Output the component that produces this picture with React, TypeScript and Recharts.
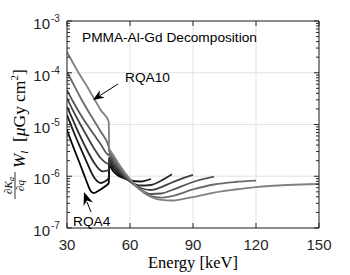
import React from 'react';
import { LineChart, Line, XAxis, YAxis, CartesianGrid } from 'recharts';

const AXIS = '#262626';
const SANS = '"Liberation Sans", Arial, sans-serif';
const SERIF = '"Liberation Serif", "Times New Roman", serif';

const beamNames = ['RQA4', 'RQA5', 'RQA6', 'RQA7', 'RQA8', 'RQA9', 'RQA10'];
const beamColors = ['#000000', '#161616', '#2b2b2b', '#414141', '#565656', '#6b6b6b', '#808080'];

// energies in keV; 49.9 / 50.05 straddle the Gd K-edge
const rqa4Energy = [30, 33, 36, 38, 40, 41, 42, 43, 44, 46, 48, 49.9, 50.05, 52, 55, 58, 60];
const rqa4Value = [7.83e-6, 3.67e-6, 1.8e-6, 1.1e-6, 6.78e-7, 5.42e-7, 4.85e-7, 4.74e-7, 4.97e-7, 5.55e-7, 6.34e-7, 7.41e-7, 1.58e-6, 1.26e-6, 9.89e-7, 9.06e-7, 8.85e-7];

const rqa5Energy = [30, 33, 36, 40, 42, 44, 46, 48, 49.9, 50.05, 52, 55, 60, 65, 70];
const rqa5Value = [1.53e-5, 7.48e-6, 3.85e-6, 1.65e-6, 1.1e-6, 8.28e-7, 7.41e-7, 7.92e-7, 9.25e-7, 1.8e-6, 1.44e-6, 1.06e-6, 8.28e-7, 7.92e-7, 8.85e-7];

const rqa6Energy = [30, 33, 36, 40, 43, 45, 47, 49.9, 50.05, 52, 55, 60, 65, 70, 75, 80];
const rqa6Value = [2.21e-5, 1.17e-5, 6.27e-6, 2.94e-6, 1.8e-6, 1.41e-6, 1.24e-6, 1.32e-6, 2.06e-6, 1.61e-6, 1.16e-6, 7.92e-7, 6.62e-7, 6.78e-7, 8.28e-7, 1.09e-6];

const rqa7Energy = [30, 33, 36, 40, 43, 46, 49.9, 50.05, 52, 55, 60, 65, 70, 75, 80, 85, 90];
const rqa7Value = [3.21e-5, 1.82e-5, 1.07e-5, 5.48e-6, 3.37e-6, 2.25e-6, 1.73e-6, 2.35e-6, 1.8e-6, 1.26e-6, 7.92e-7, 5.93e-7, 5.42e-7, 6.19e-7, 7.57e-7, 9.06e-7, 1.06e-6];

const rqa8Energy = [30, 33, 36, 40, 43, 46, 49.9, 50.05, 52, 55, 60, 65, 70, 75, 80, 90, 100];
const rqa8Value = [4.64e-5, 2.72e-5, 1.67e-5, 9.35e-6, 6.27e-6, 4.2e-6, 2.58e-6, 2.69e-6, 2.06e-6, 1.38e-6, 8.09e-7, 5.55e-7, 4.54e-7, 4.64e-7, 5.42e-7, 7.74e-7, 9.79e-7];

const rqa9Energy = [30, 33, 36, 40, 43, 46, 49.9, 50.05, 52, 55, 60, 65, 70, 75, 80, 90, 100, 110, 120];
const rqa9Value = [1.05e-4, 6.07e-5, 3.56e-5, 1.85e-5, 1.17e-5, 7.33e-6, 3.67e-6, 3.08e-6, 2.3e-6, 1.51e-6, 8.47e-7, 5.42e-7, 4.15e-7, 3.88e-7, 4.15e-7, 5.55e-7, 6.93e-7, 7.74e-7, 8.2e-7];

const rqa10Energy = [30, 33, 36, 40, 43, 46, 49.9, 50.05, 52, 55, 60, 65, 70, 75, 80, 85, 90, 100, 110, 120, 135, 150];
const rqa10Value = [2.55e-4, 1.51e-4, 9.25e-5, 5.07e-5, 3.11e-5, 1.91e-5, 1.13e-5, 3.52e-6, 2.58e-6, 1.65e-6, 8.85e-7, 5.42e-7, 3.97e-7, 3.48e-7, 3.4e-7, 3.63e-7, 3.97e-7, 4.85e-7, 5.55e-7, 6.19e-7, 6.78e-7, 7.08e-7];

const xTicks = [30, 60, 90, 120, 150];
const yDecades = [1e-7, 1e-6, 1e-5, 1e-4, 1e-3];
const yTicks = [
  ...yDecades,
  ...yDecades.slice(0, -1).flatMap((d) => [2, 3, 4, 5, 6, 7, 8, 9].map((k) => k * d)),
];

const energies = [rqa4Energy, rqa5Energy, rqa6Energy, rqa7Energy, rqa8Energy, rqa9Energy, rqa10Energy];
const values = [rqa4Value, rqa5Value, rqa6Value, rqa7Value, rqa8Value, rqa9Value, rqa10Value];

const series = beamNames.map((name, i) => ({
  name,
  color: beamColors[i],
  data: energies[i].map((e, j) => ({ energy: e, value: values[i][j] })),
}));

function isMajor(v: number) {
  const lg = Math.log10(v);
  return Math.abs(lg - Math.round(lg)) < 1e-9;
}

const LeftTick = (props: any) => {
  const { x, y, payload } = props;
  const v = payload.value;
  const major = isMajor(v);
  const exp = Math.round(Math.log10(v));
  return (
    <g>
      <line x1={x} x2={x + (major ? 5 : 3)} y1={y} y2={y} stroke={AXIS} strokeWidth={1} />
      {major && (
        <text x={x - 17} y={y + 8} textAnchor="end" fontSize={15} fontFamily={SANS} fill={AXIS}>
          10
        </text>
      )}
      {major && (
        <text x={x - 16} y={y + 1} textAnchor="start" fontSize={10} fontFamily={SANS} fill={AXIS}>
          {`-${-exp}`}
        </text>
      )}
    </g>
  );
};

const RightTick = (props: any) => {
  const { x, y, payload } = props;
  const major = isMajor(payload.value);
  return <line x1={x} x2={x - (major ? 5 : 3)} y1={y} y2={y} stroke={AXIS} strokeWidth={1} />;
};

const BottomTick = (props: any) => {
  const { x, y, payload } = props;
  return (
    <g>
      <line x1={x} x2={x} y1={y} y2={y - 5} stroke={AXIS} strokeWidth={1} />
      <text x={x} y={y + 22} textAnchor="middle" fontSize={15} fontFamily={SANS} fill={AXIS}>
        {payload.value}
      </text>
    </g>
  );
};

const TopTick = (props: any) => {
  const { x, y } = props;
  return <line x1={x} x2={x} y1={y} y2={y + 5} stroke={AXIS} strokeWidth={1} />;
};

function arrowHead(tx: number, ty: number, fx: number, fy: number, len: number, half: number) {
  const dx = tx - fx;
  const dy = ty - fy;
  const d = Math.hypot(dx, dy);
  const ux = dx / d;
  const uy = dy / d;
  const bx = tx - len * ux;
  const by = ty - len * uy;
  const nx = tx - len * 0.7 * ux;
  const ny = ty - len * 0.7 * uy;
  const px = -uy * half;
  const py = ux * half;
  return `${tx},${ty} ${bx + px},${by + py} ${nx},${ny} ${bx - px},${by - py}`;
}

export default function App() {
  return (
    <div style={{ position: 'absolute', left: 0, top: 0, width: 350, height: 275, background: '#fff' }}>
      <LineChart
        width={350}
        height={275}
        margin={{ top: 20, right: 30, bottom: 7, left: 7 }}
      >
        <CartesianGrid
          xAxisId="bottom"
          yAxisId="left"
          stroke="#e3e3e3"
          horizontalValues={yDecades}
          verticalValues={xTicks}
        />
        <XAxis
          xAxisId="bottom"
          dataKey="energy"
          type="number"
          domain={[30, 150]}
          ticks={xTicks}
          interval={0}
          allowDataOverflow
          height={40}
          tickSize={0}
          tickMargin={0}
          tick={BottomTick}
          axisLine={{ stroke: AXIS }}
          tickLine={false}
        />
        <XAxis
          xAxisId="top"
          orientation="top"
          dataKey="energy"
          type="number"
          domain={[30, 150]}
          ticks={xTicks}
          interval={0}
          allowDataOverflow
          height={1}
          tickSize={0}
          tickMargin={0}
          tick={TopTick}
          axisLine={{ stroke: AXIS }}
          tickLine={false}
        />
        <YAxis
          yAxisId="left"
          type="number"
          scale="log"
          domain={[1e-7, 1e-3]}
          ticks={yTicks}
          interval={0}
          allowDataOverflow
          width={60}
          tickSize={0}
          tickMargin={0}
          tick={LeftTick}
          axisLine={{ stroke: AXIS }}
          tickLine={false}
        />
        <YAxis
          yAxisId="right"
          orientation="right"
          type="number"
          scale="log"
          domain={[1e-7, 1e-3]}
          ticks={yTicks}
          interval={0}
          allowDataOverflow
          width={1}
          tickSize={0}
          tickMargin={0}
          tick={RightTick}
          axisLine={{ stroke: AXIS }}
          tickLine={false}
        />
        {series.map((s) => (
          <Line
            key={s.name}
            xAxisId="bottom"
            yAxisId="left"
            data={s.data}
            dataKey="value"
            name={s.name}
            type="monotone"
            stroke={s.color}
            strokeWidth={1.8}
            dot={false}
            activeDot={false}
            isAnimationActive={false}
          />
        ))}
      </LineChart>
      <svg
        width={350}
        height={275}
        style={{ position: 'absolute', left: 0, top: 0, pointerEvents: 'none' }}
      >
        <text x={82} y={42} fontSize={13.7} fontFamily={SANS} fill="#000">
          PMMA-Al-Gd Decomposition
        </text>
        <text x={125} y={82} fontSize={13.7} fontFamily={SANS} fill="#000">
          RQA10
        </text>
        <line x1={118} y1={84} x2={100} y2={95.5} stroke="#000" strokeWidth={1} />
        <polygon points={arrowHead(93, 100, 118, 84, 11, 4.5)} fill="#000" />
        <text x={73} y={226} fontSize={13.7} fontFamily={SANS} fill="#000">
          RQA4
        </text>
        <line x1={91} y1={212} x2={87} y2={202} stroke="#000" strokeWidth={1} />
        <polygon points={arrowHead(84, 192, 91, 212, 13, 5)} fill="#000" />
        <text x={193} y={268} textAnchor="middle" fontSize={16.5} fontFamily={SERIF} fill="#000">
          Energy [keV]
        </text>
        <g transform="translate(25,199) rotate(-90)" fontFamily={SERIF} fill="#000">
          <text x={13.5} y={-13} textAnchor="middle" fontSize={11}>
            <tspan>∂</tspan>
            <tspan fontStyle="italic">K</tspan>
            <tspan fontSize={8} dy={2} fontStyle="italic">a</tspan>
          </text>
          <line x1={0} x2={27} y1={-10} y2={-10} stroke="#000" strokeWidth={0.8} />
          <text x={13.5} y={-1} textAnchor="middle" fontSize={11}>
            <tspan>∂</tspan>
            <tspan fontStyle="italic">q</tspan>
          </text>
          <text x={31} y={0} fontSize={17}>
            <tspan fontStyle="italic">W</tspan>
            <tspan fontSize={11} dy={3} fontStyle="italic">l</tspan>
          </text>
          <text x={57} y={0} fontSize={17.5}>
            <tspan>[</tspan>
            <tspan fontStyle="italic">μ</tspan>
            <tspan>Gy</tspan>
            <tspan dx={4}>cm</tspan>
            <tspan fontSize={11} dy={-7}>2</tspan>
            <tspan dy={7}>]</tspan>
          </text>
        </g>
      </svg>
    </div>
  );
}
